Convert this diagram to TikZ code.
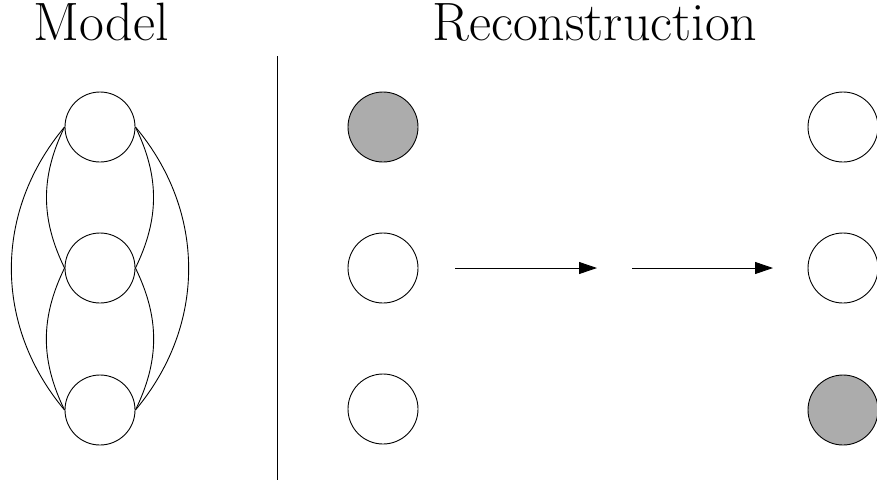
\documentclass[tikz,border=0pt]{standalone}
\usetikzlibrary{arrows.meta}
\begin{document}
\begin{tikzpicture}[x=1pt,y=-1pt,
  unit/.style={circle,draw,line width=0.9pt,minimum size=70pt,inner sep=0pt},
  onunit/.style={unit,fill=gray!65},
  edge/.style={line width=0.9pt},
  flow/.style={line width=0.9pt,-{Triangle[length=18pt,width=12pt]}},
  heading/.style={font=\fontsize{54}{64}\selectfont,anchor=base,inner sep=0pt}]
\useasboundingbox (0,0) rectangle (877,483);
\clip (0,0) rectangle (877,483);
% titles
\node[heading] (tmodel) at (101,40) {Model};
\node[heading] (trec) at (595,40) {Reconstruction};
% model
\node[unit] (m1) at (100,127) {};
\node[unit] (m2) at (100,268) {};
\node[unit] (m3) at (100,410) {};
\draw[edge] (m1.west) to[bend right=26] (m2.west);
\draw[edge] (m1.east) to[bend left=26] (m2.east);
\draw[edge] (m2.west) to[bend right=26] (m3.west);
\draw[edge] (m2.east) to[bend left=26] (m3.east);
\draw[edge] (m1.west) to[bend right=40] (m3.west);
\draw[edge] (m1.east) to[bend left=40] (m3.east);
% divider
\coordinate (dtop) at (277,56);
\coordinate (dbot) at (277,480);
\draw[edge] (dtop) -- (dbot);
% reconstruction left column
\node[onunit] (a1) at (383,127) {};
\node[unit] (a2) at (383,268) {};
\node[unit] (a3) at (383,409) {};
% arrows
\coordinate (f1s) at (455,268);
\coordinate (f1e) at (597,268);
\coordinate (f2s) at (632,268);
\coordinate (f2e) at (773,268);
\draw[flow] (f1s) -- (f1e);
\draw[flow] (f2s) -- (f2e);
% reconstruction right column
\node[unit] (b1) at (843,127) {};
\node[unit] (b2) at (843,268) {};
\node[onunit] (b3) at (843,410) {};
\end{tikzpicture}
\end{document}
